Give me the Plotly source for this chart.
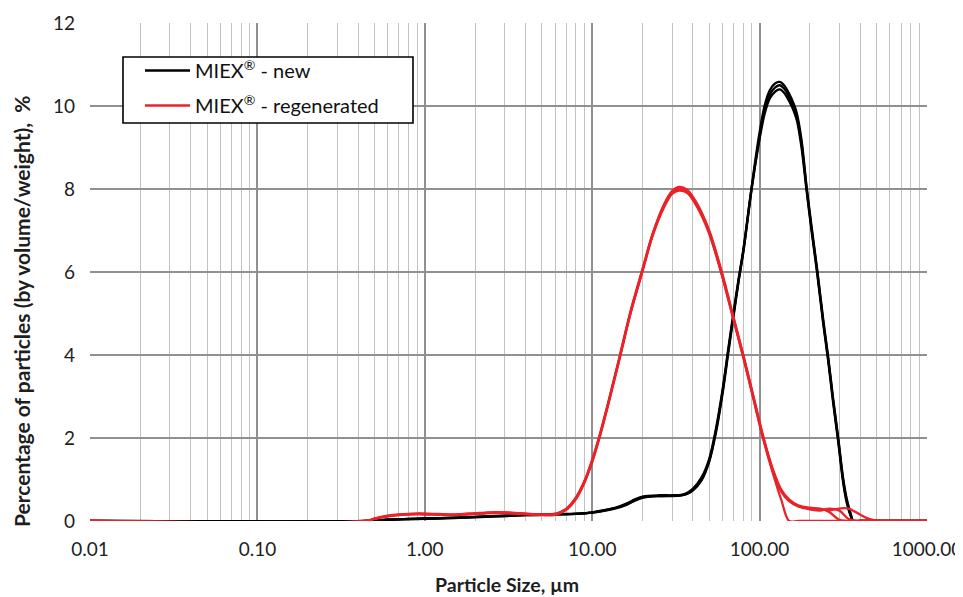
import plotly.graph_objects as go

# ---------------- data ----------------
x_tick_vals = [0.01, 0.1, 1, 10, 100, 1000]
x_tick_text = ["0.01", "0.10", "1.00", "10.00", "100.00", "1000.00"]
y_tick_vals = [0, 2, 4, 6, 8, 10, 12]
decades = [0.01, 0.1, 1, 10, 100]
minor_digits = [2, 3, 4, 5, 6, 7, 8, 9]

series_names = ["MIEX<sup>®</sup> - new", "MIEX<sup>®</sup> - regenerated"]

# particle size (µm) for the "new" resin replicates
new_x = [0.01, 0.45, 0.5, 0.6, 0.8, 1.0, 1.5, 2, 3, 4, 5, 6, 8, 10, 12, 14, 16, 18, 20,
         25, 30, 34, 37, 40, 45, 50, 55, 60, 65, 70, 75, 80, 89, 98, 107, 115, 124, 132,
         140, 150, 160, 167, 178, 191, 205, 221, 240, 257, 275, 295, 315, 331, 350, 363, 400, 1000]
new_y1 = [0, 0, 0.01, 0.03, 0.05, 0.06, 0.08, 0.10, 0.12, 0.14, 0.15, 0.16, 0.17, 0.20,
          0.26, 0.32, 0.40, 0.50, 0.57, 0.60, 0.60, 0.62, 0.66, 0.75, 1.0, 1.45, 2.2, 3.1,
          4.1, 5.0, 5.8, 6.5, 7.9, 9.05, 9.9, 10.28, 10.45, 10.5, 10.42, 10.22, 9.98, 9.75,
          9.1, 8.0, 7.0, 6.0, 4.8, 3.9, 2.9, 1.95, 1.0, 0.5, 0.15, 0, 0, 0]
new_y2 = [0, 0, 0.01, 0.03, 0.05, 0.06, 0.08, 0.10, 0.13, 0.15, 0.16, 0.17, 0.18, 0.21,
          0.27, 0.33, 0.42, 0.52, 0.59, 0.62, 0.62, 0.63, 0.68, 0.78, 1.05, 1.5, 2.25, 3.15,
          4.15, 5.05, 5.85, 6.55, 7.95, 9.0, 9.8, 10.18, 10.35, 10.4, 10.32, 10.12, 9.88, 9.65,
          9.0, 7.95, 6.95, 5.95, 4.75, 3.85, 2.85, 1.9, 0.95, 0.45, 0.12, 0, 0, 0]
new_y3 = [0, 0, 0.01, 0.03, 0.04, 0.05, 0.07, 0.09, 0.12, 0.14, 0.15, 0.16, 0.17, 0.20,
          0.25, 0.31, 0.39, 0.49, 0.56, 0.60, 0.61, 0.62, 0.66, 0.74, 0.98, 1.43, 2.15, 3.05,
          4.05, 4.95, 5.8, 6.5, 7.95, 9.15, 10.0, 10.38, 10.55, 10.58, 10.5, 10.3, 10.05, 9.82,
          9.18, 8.05, 7.05, 6.05, 4.85, 3.95, 2.95, 2.0, 1.05, 0.55, 0.18, 0, 0, 0]

# particle size (µm) for the "regenerated" resin replicates
regen_x = [0.01, 0.45, 0.5, 0.6, 0.7, 0.9, 1.2, 1.5, 2, 2.5, 3, 4, 5, 6, 7, 8, 9, 10, 11,
           12.5, 14.5, 17, 20, 23, 27, 30, 33, 37, 42, 50, 59, 70, 80, 92, 105, 120, 135,
           150, 170, 200, 230, 260, 300, 340, 400, 450, 520, 1000]
regen_y1 = [0, 0, 0.06, 0.12, 0.15, 0.17, 0.16, 0.15, 0.18, 0.20, 0.20, 0.17, 0.15, 0.16,
            0.28, 0.55, 0.95, 1.45, 2.0, 2.85, 3.9, 5.05, 6.05, 6.9, 7.6, 7.9, 8.0, 7.93,
            7.62, 6.95, 6.0, 4.85, 3.95, 2.95, 2.0, 1.2, 0.72, 0.5, 0.36, 0.30, 0.28, 0.26,
            0.30, 0.30, 0.15, 0.05, 0, 0]
regen_y2 = [0, 0, 0.05, 0.11, 0.14, 0.16, 0.15, 0.14, 0.17, 0.19, 0.19, 0.16, 0.14, 0.15,
            0.27, 0.53, 0.93, 1.42, 1.97, 2.82, 3.87, 5.02, 6.02, 6.88, 7.58, 7.88, 7.96, 7.9,
            7.59, 6.92, 5.97, 4.83, 3.93, 2.93, 1.98, 1.15, 0.5, 0, 0, 0, 0, 0,
            0, 0, 0, 0, 0, 0]
regen_y3 = [0, 0, 0.06, 0.13, 0.16, 0.18, 0.17, 0.16, 0.19, 0.21, 0.21, 0.18, 0.16, 0.17,
            0.30, 0.57, 0.97, 1.48, 2.03, 2.88, 3.93, 5.08, 6.08, 6.93, 7.65, 7.95, 8.05, 7.98,
            7.67, 7.0, 6.05, 4.9, 4.0, 3.0, 2.05, 1.25, 0.75, 0.52, 0.38, 0.32, 0.30, 0.22,
            0.03, 0, 0, 0, 0, 0]
regen_y4 = [0, 0, 0.05, 0.12, 0.15, 0.17, 0.16, 0.15, 0.18, 0.20, 0.20, 0.17, 0.15, 0.16,
            0.28, 0.55, 0.95, 1.45, 2.0, 2.85, 3.9, 5.05, 6.05, 6.92, 7.62, 7.93, 8.03, 7.96,
            7.64, 6.97, 6.02, 4.87, 3.97, 2.97, 2.02, 1.22, 0.7, 0.48, 0.35, 0.28, 0.25, 0.30,
            0.25, 0.05, 0, 0, 0, 0]

new_reps = [new_y1, new_y2, new_y3]
regen_reps = [regen_y1, regen_y2, regen_y3, regen_y4]

BLACK = "#000000"
RED = "#e8232a"
FONT = "Lato"
TXT = "#1e1e1e"

# the page body has an 8 px default margin, so the figure is drawn 8 px in;
# sizes below are chosen so that the plot area lands at x 90..927, y 23..521
OFF = 8
PL, PR, PT, PB = 90, 927, 23, 521
PW, PH = PR - PL, PB - PT

minor_vals = [d * m for d in decades for m in minor_digits]


def px(x):
    return (x - PL) / PW


def py(y):
    return (PB - y) / PH


fig = go.Figure()
for i, ys in enumerate(new_reps):
    fig.add_trace(go.Scatter(
        x=new_x, y=ys, mode="lines", name=series_names[0],
        legendgroup="new", showlegend=(i == 0),
        line=dict(color=BLACK, width=2.3, shape="spline", smoothing=0.9),
    ))
for i, ys in enumerate(regen_reps):
    fig.add_trace(go.Scatter(
        x=regen_x, y=ys, mode="lines", name=series_names[1],
        legendgroup="regen", showlegend=(i == 0),
        line=dict(color=RED, width=2.3, shape="spline", smoothing=0.9),
    ))

fig.update_layout(
    width=963 - OFF, height=597 - OFF,
    margin=dict(l=PL - OFF, r=963 - PR, t=PT - OFF, b=597 - PB, autoexpand=False),
    paper_bgcolor="white", plot_bgcolor="white",
    font=dict(family=FONT, size=19, color=TXT),
    showlegend=True,
    legend=dict(
        x=px(140), y=py(51), xanchor="left", yanchor="top",
        bgcolor="rgba(0,0,0,0)", borderwidth=0,
        font=dict(family=FONT, size=20, color="#111111"),
        itemwidth=45, tracegroupgap=6,
    ),
    hovermode=False,
    shapes=[dict(
        type="rect", xref="paper", yref="paper",
        x0=px(123), x1=px(413), y0=py(123), y1=py(57),
        fillcolor="white", line=dict(color="#000000", width=1.6), layer="above",
    )],
)

fig.update_xaxes(
    type="log", range=[-2, 3], automargin=False,
    tickvals=x_tick_vals, ticktext=x_tick_text,
    ticks="", ticklen=0, ticklabelstandoff=15,
    showgrid=True, gridcolor="#909090", gridwidth=1.5,
    minor=dict(tickvals=minor_vals, showgrid=True, gridcolor="#c2c2c2", gridwidth=1.3, ticks=""),
    showline=False, zeroline=False,
    tickfont=dict(family=FONT, size=19, color=TXT),
)
fig.update_yaxes(
    range=[0, 12], tickvals=y_tick_vals, automargin=False,
    ticks="", showgrid=True, gridcolor="#909090", gridwidth=1.5,
    showline=False, zeroline=False,
    tickfont=dict(family=FONT, size=19, color=TXT),
    ticklabelstandoff=14,
)

fig.add_annotation(
    text="<b>Percentage of particles (by volume/weight),  %</b>",
    xref="paper", yref="paper", x=px(21), y=py(311),
    xanchor="center", yanchor="middle", textangle=-90, showarrow=False,
    font=dict(family=FONT, size=21, color=TXT),
)
fig.add_annotation(
    text="<b>Particle Size, µm</b>",
    xref="paper", yref="paper", x=px(507), y=py(584),
    xanchor="center", yanchor="middle", showarrow=False,
    font=dict(family=FONT, size=19.5, color=TXT),
)

fig.write_html("out.html")
